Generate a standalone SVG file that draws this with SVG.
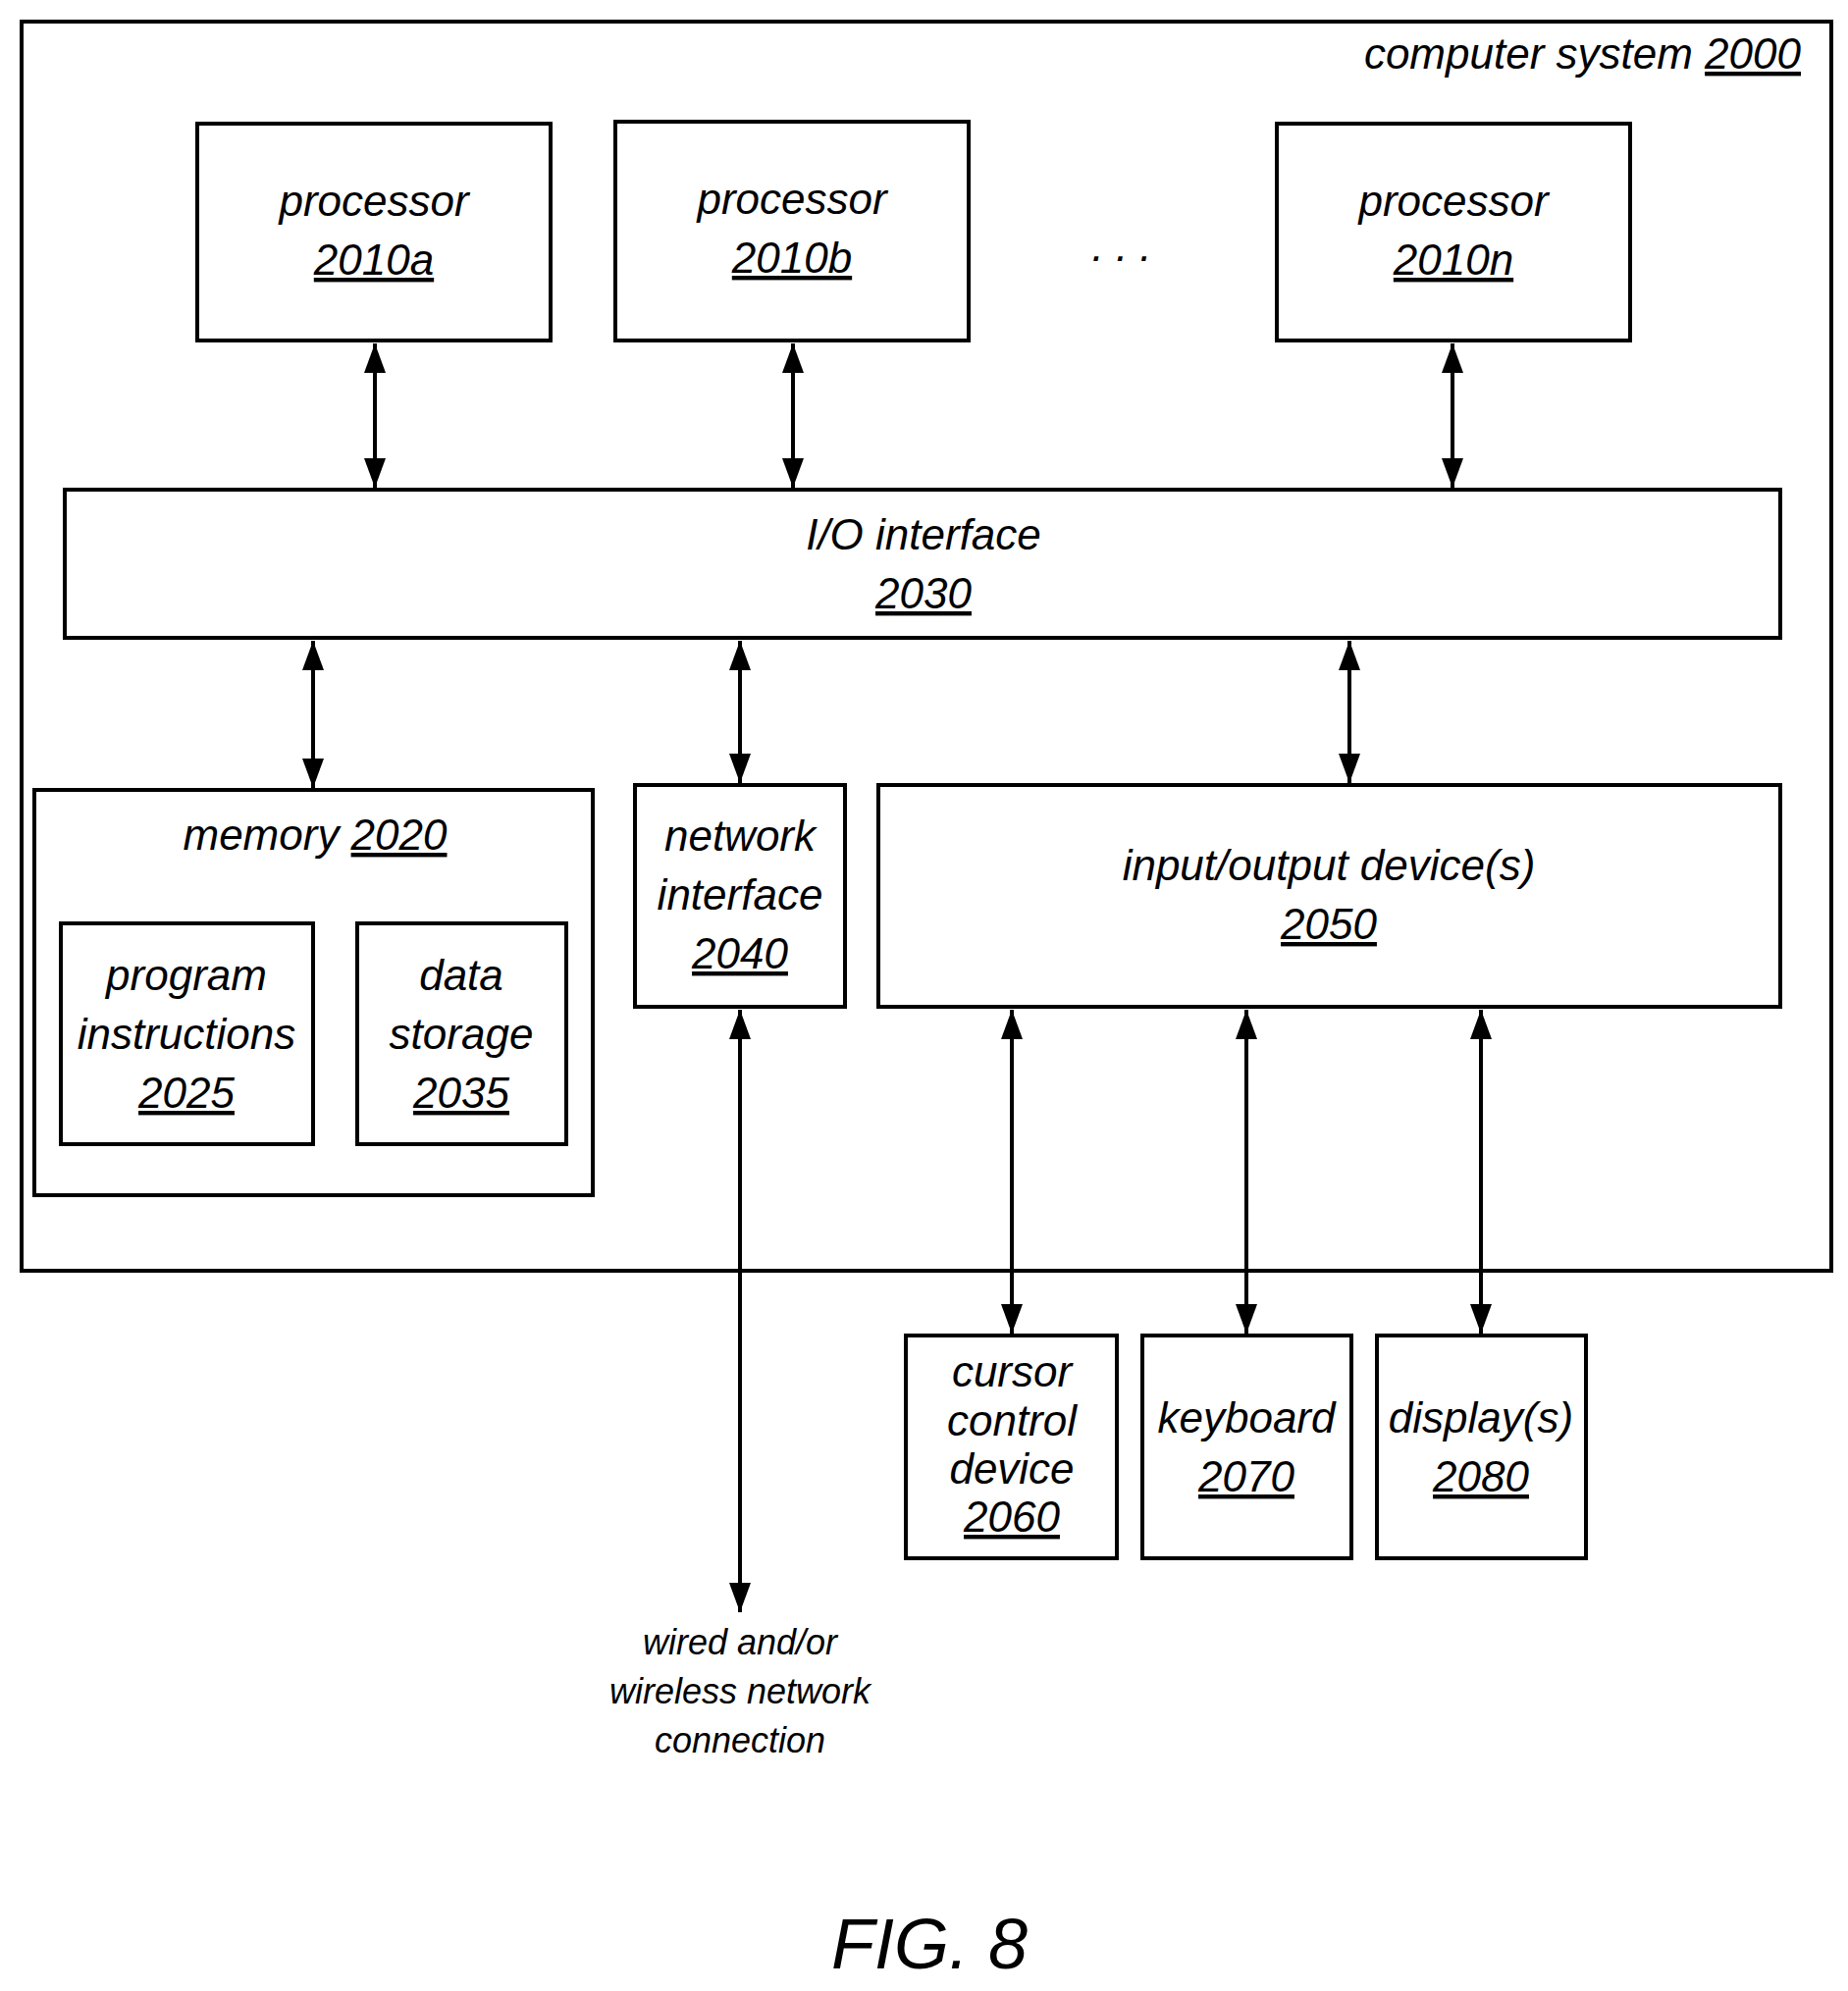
<svg xmlns="http://www.w3.org/2000/svg" width="1883" height="2029" viewBox="0 0 1883 2029">
<style>
rect{fill:none;stroke:#000;stroke-width:4}
text{font-family:"Liberation Sans Narrow","Liberation Sans",sans-serif;font-style:italic;font-size:44px;text-anchor:middle;fill:#000}
.u{text-decoration:underline}
.s{font-size:36px}
line{stroke:#000;stroke-width:4}
</style>
<defs>
<marker id="a" viewBox="0 0 30 22" refX="30" refY="11" markerWidth="30" markerHeight="22" markerUnits="userSpaceOnUse" orient="auto-start-reverse"><path d="M0 0L30 11L0 22z" fill="#000"/></marker>
</defs>
<rect width="1883" height="2029" style="fill:#fff;stroke:none"/>
<g id="system"><rect x="22" y="22" width="1844" height="1273"/><text x="1835" y="70" style="text-anchor:end">computer system <tspan class="u">2000</tspan></text></g>
<g id="p2010a"><rect x="201" y="126" width="360" height="221"/><text x="381" y="220">processor</text><text x="381" y="280" class="u">2010a</text></g>
<g id="p2010b"><rect x="627" y="124" width="360" height="223"/><text x="807" y="218">processor</text><text x="807" y="278" class="u">2010b</text></g>
<g id="dots"><text x="1143" y="266">. . .</text></g>
<g id="p2010n"><rect x="1301" y="126" width="360" height="221"/><text x="1481" y="220">processor</text><text x="1481" y="280" class="u">2010n</text></g>
<g id="io2030"><rect x="66" y="499" width="1748" height="151"/><text x="941" y="560">I/O interface</text><text x="941" y="620" class="u">2030</text></g>
<g id="mem2020"><rect x="35" y="805" width="569" height="413"/><text x="321" y="866">memory  <tspan class="u">2020</tspan></text></g>
<g id="pi2025"><rect x="62" y="941" width="257" height="225"/><text x="190" y="1009">program</text><text x="190" y="1069">instructions</text><text x="190" y="1129" class="u">2025</text></g>
<g id="ds2035"><rect x="364" y="941" width="213" height="225"/><text x="470" y="1009">data</text><text x="470" y="1069">storage</text><text x="470" y="1129" class="u">2035</text></g>
<g id="ni2040"><rect x="647" y="800" width="214" height="226"/><text x="754" y="867">network</text><text x="754" y="927">interface</text><text x="754" y="987" class="u">2040</text></g>
<g id="iod2050"><rect x="895" y="800" width="919" height="226"/><text x="1354" y="897">input/output device(s)</text><text x="1354" y="957" class="u">2050</text></g>
<g id="c2060"><rect x="923" y="1361" width="215" height="227"/><text x="1031" y="1413">cursor</text><text x="1031" y="1463">control</text><text x="1031" y="1512">device</text><text x="1031" y="1561" class="u">2060</text></g>
<g id="k2070"><rect x="1164" y="1361" width="213" height="227"/><text x="1270" y="1460">keyboard</text><text x="1270" y="1520" class="u">2070</text></g>
<g id="d2080"><rect x="1403" y="1361" width="213" height="227"/><text x="1509" y="1460">display(s)</text><text x="1509" y="1520" class="u">2080</text></g>
<g id="net"><text x="754" y="1686" class="s">wired and/or</text><text x="754" y="1736" class="s">wireless network</text><text x="754" y="1786" class="s">connection</text></g>
<g id="connectors">
<line x1="382" y1="350" x2="382" y2="497" marker-start="url(#a)" marker-end="url(#a)"/>
<line x1="808" y1="350" x2="808" y2="497" marker-start="url(#a)" marker-end="url(#a)"/>
<line x1="1480" y1="350" x2="1480" y2="497" marker-start="url(#a)" marker-end="url(#a)"/>
<line x1="319" y1="653" x2="319" y2="803" marker-start="url(#a)" marker-end="url(#a)"/>
<line x1="754" y1="653" x2="754" y2="798" marker-start="url(#a)" marker-end="url(#a)"/>
<line x1="1375" y1="653" x2="1375" y2="798" marker-start="url(#a)" marker-end="url(#a)"/>
<line x1="1031" y1="1029" x2="1031" y2="1359" marker-start="url(#a)" marker-end="url(#a)"/>
<line x1="1270" y1="1029" x2="1270" y2="1359" marker-start="url(#a)" marker-end="url(#a)"/>
<line x1="1509" y1="1029" x2="1509" y2="1359" marker-start="url(#a)" marker-end="url(#a)"/>
<line x1="754" y1="1029" x2="754" y2="1643" marker-start="url(#a)" marker-end="url(#a)"/>
</g>
<text x="947" y="2006" style="font-family:'Liberation Sans',sans-serif;font-size:72px">FIG. 8</text>
</svg>
